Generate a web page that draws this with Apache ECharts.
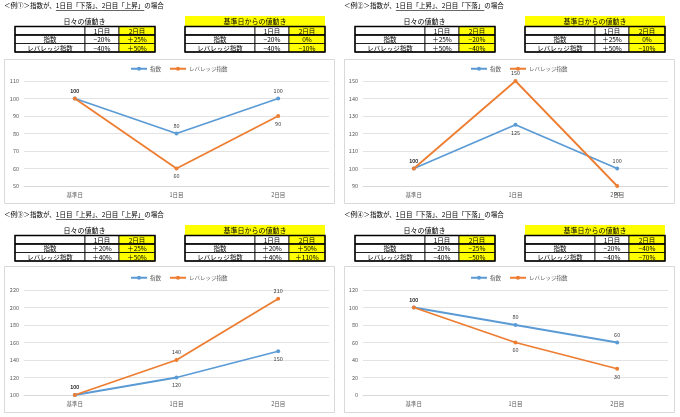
<!DOCTYPE html>
<html>
<head>
<meta charset="utf-8">
<script src="https://cdn.jsdelivr.net/npm/echarts@6/dist/echarts.min.js"></script>
<style>
html,body{margin:0;padding:0;background:#fff;}
#main{width:680px;height:417px;}
</style>
</head>
<body>
<div id="main"></div>
<script>
var FONT = '"Noto Sans CJK JP", "Noto Sans", sans-serif';

// categories / headers
var cats = ['基準日', '1日目', '2日目'];
var seriesNames = ['指数', 'レバレッジ指数'];
var colHeads = ['1日目', '2日目'];
var rowHeads = ['指数', 'レバレッジ指数'];

// line values per example
var idx1 = [100, 80, 100], lev1 = [100, 60, 90];
var idx2 = [100, 125, 100], lev2 = [100, 150, 90];
var idx3 = [100, 120, 150], lev3 = [100, 140, 210];
var idx4 = [100, 80, 60], lev4 = [100, 60, 30];

// y axis ranges
var yMin = [50, 90, 100, 0];
var yMax = [110, 150, 220, 120];
var yStep = [10, 10, 20, 20];

// table values: 日々の値動き / 基準日からの値動き
var daily1 = [['−20%', '＋25%'], ['−40%', '＋50%']];
var cum1 = [['−20%', '0%'], ['−40%', '−10%']];
var daily2 = [['＋25%', '−20%'], ['＋50%', '−40%']];
var cum2 = [['＋25%', '0%'], ['＋50%', '−10%']];
var daily3 = [['＋20%', '＋25%'], ['＋40%', '＋50%']];
var cum3 = [['＋20%', '＋50%'], ['＋40%', '＋110%']];
var daily4 = [['−20%', '−25%'], ['−40%', '−50%']];
var cum4 = [['−20%', '−40%'], ['−40%', '−70%']];

// titles
var titleHead = ['＜例①＞指数が、', '＜例②＞指数が、', '＜例③＞指数が、', '＜例④＞指数が、'];
var titleMid = ['1日目「下落」、2日目「上昇」', '1日目「上昇」、2日目「下落」', '1日目「上昇」、2日目「上昇」', '1日目「下落」、2日目「下落」'];
var titleTail = 'の場合';

var panels = [
  {ox: 0, oy: 0, idx: idx1, lev: lev1, daily: daily1, cum: cum1,
    posI: ['top', 'top', 'top'], posL: ['top', 'bottom', 'bottom']},
  {ox: 340, oy: 0, idx: idx2, lev: lev2, daily: daily2, cum: cum2,
    posI: ['top', 'bottom', 'top'], posL: ['top', 'top', 'bottom']},
  {ox: 0, oy: 209, idx: idx3, lev: lev3, daily: daily3, cum: cum3,
    posI: ['top', 'bottom', 'bottom'], posL: ['top', 'top', 'top']},
  {ox: 340, oy: 209, idx: idx4, lev: lev4, daily: daily4, cum: cum4,
    posI: ['top', 'top', 'top'], posL: ['top', 'bottom', 'bottom']}
];

var ctx = document.createElement('canvas').getContext('2d');
function textW(s, size) {
  ctx.font = size + 'px ' + FONT;
  return ctx.measureText(s).width;
}

function txt(x, y, s, size, opt) {
  opt = opt || {};
  return {
    type: 'text', x: x, y: y, z: 10, silent: true,
    style: {
      text: s, fontSize: size, fontFamily: FONT, fill: opt.fill || '#000',
      fontWeight: opt.bold ? 'bold' : 'normal',
      align: opt.align || 'left', verticalAlign: 'middle'
    }
  };
}
function rect(x, y, w, h, fill, stroke, lw) {
  return {
    type: 'rect', z: 5, silent: true,
    shape: {x: x, y: y, width: w, height: h},
    style: {fill: fill || 'none', stroke: stroke || null, lineWidth: lw || 0}
  };
}
function line(x1, y1, x2, y2, lw, color) {
  return {
    type: 'line', z: 8, silent: true,
    shape: {x1: x1, y1: y1, x2: x2, y2: y2},
    style: {stroke: color || '#000', lineWidth: lw}
  };
}

function table(g, x0, y0, vals) {
  var cw = [70, 34, 36];
  var rh = 8.5;
  var xs = [x0, x0 + cw[0], x0 + cw[0] + cw[1], x0 + cw[0] + cw[1] + cw[2]];
  var W = xs[3] - x0;
  var rows = [[''].concat(colHeads)];
  for (var r = 0; r < rowHeads.length; r++) rows.push([rowHeads[r]].concat(vals[r]));
  for (var r = 0; r < rows.length; r++) {
    var y = y0 + r * rh;
    for (var c = 0; c < 3; c++) {
      var fill = c === 2 ? '#ffff00' : '#ffffff';
      g.push(rect(xs[c], y, cw[c], rh, fill, '#000', 0.8));
      g.push(txt((xs[c] + xs[c + 1]) / 2, y + rh / 2 + 0.5, rows[r][c], 6.5, {align: 'center'}));
    }
  }
  g.push(line(x0, y0 + rh, x0 + W, y0 + rh, 1.6));
  g.push(rect(x0, y0, W, rh * rows.length, 'none', '#000', 1.4));
}

var graphic = [];
var grids = [], xAxes = [], yAxes = [], series = [], legends = [];

panels.forEach(function (p, i) {
  var ox = p.ox, oy = p.oy;
  // title with underline
  var tx = ox + 4, ty = oy + 6;
  var w1 = textW(titleHead[i], 6.5), w2 = textW(titleMid[i], 6.5);
  graphic.push(txt(tx, ty, titleHead[i], 6.5));
  graphic.push(txt(tx + w1, ty, titleMid[i], 6.5));
  graphic.push(txt(tx + w1 + w2, ty, titleTail, 6.5));
  graphic.push(line(tx + w1, ty + 4.5, tx + w1 + w2, ty + 4.5, 0.6));

  // left table
  graphic.push(txt(ox + 84.5, oy + 21, '日々の値動き', 7, {align: 'center'}));
  table(graphic, ox + 15, oy + 26.5, p.daily);
  // right table
  graphic.push(rect(ox + 185, oy + 16, 140, 10, '#ffff00'));
  graphic.push(txt(ox + 255, oy + 21, '基準日からの値動き', 7, {align: 'center'}));
  table(graphic, ox + 185, oy + 26.5, p.cum);

  // chart frame
  var fy = i < 2 ? 59.5 : 266.5;
  var fh = i < 2 ? 144 : 146;
  graphic.push({
    type: 'rect', z: -1, silent: true,
    shape: {x: ox + 4.5, y: fy, width: 330, height: fh},
    style: {fill: '#fff', stroke: '#d9d9d9', lineWidth: 1}
  });

  var top = i < 2 ? 81 : 290;
  var bottom = i < 2 ? 417 - 186 : 417 - 395;
  var left = ox === 0 ? 24 : 363;
  grids.push({left: left, width: 305, top: top, bottom: bottom});
  xAxes.push({
    type: 'category', gridIndex: i, data: cats, boundaryGap: true,
    axisLine: {lineStyle: {color: '#d9d9d9'}}, axisTick: {show: false},
    axisLabel: {color: '#595959', fontSize: 5.5, fontFamily: FONT, margin: 6}
  });
  yAxes.push({
    type: 'value', gridIndex: i, min: yMin[i], max: yMax[i], interval: yStep[i],
    axisLine: {show: false}, axisTick: {show: false},
    splitLine: {lineStyle: {color: '#e3e3e3'}},
    axisLabel: {color: '#595959', fontSize: 5.5, fontFamily: FONT, margin: 5}
  });
  legends.push({
    top: i < 2 ? 64 : 273, left: ox + 128, itemWidth: 16, itemHeight: 5, itemGap: 8,
    padding: 2,
    data: seriesNames,
    textStyle: {color: '#595959', fontSize: 5.5, fontFamily: FONT, padding: [0, 0, 0, -2]}
  });

  [[p.idx, '#5b9bd5', p.posI, seriesNames[0]], [p.lev, '#ed7d31', p.posL, seriesNames[1]]].forEach(function (s) {
    series.push({
      type: 'line', name: s[3], xAxisIndex: i, yAxisIndex: i,
      data: s[0].map(function (v, k) {
        return {value: v, label: {position: s[2][k]}};
      }),
      color: s[1], symbol: 'circle', symbolSize: 4,
      lineStyle: {width: 1.8, color: s[1]},
      itemStyle: {color: s[1]},
      label: {show: true, fontSize: 5.5, color: '#404040', fontFamily: FONT, distance: 3},
      animation: false
    });
  });
});

var chart = echarts.init(document.getElementById('main'), null, {renderer: 'canvas'});
chart.setOption({
  animation: false,
  backgroundColor: '#fff',
  graphic: graphic,
  grid: grids,
  xAxis: xAxes,
  yAxis: yAxes,
  legend: legends,
  series: series
});
</script>
</body>
</html>
